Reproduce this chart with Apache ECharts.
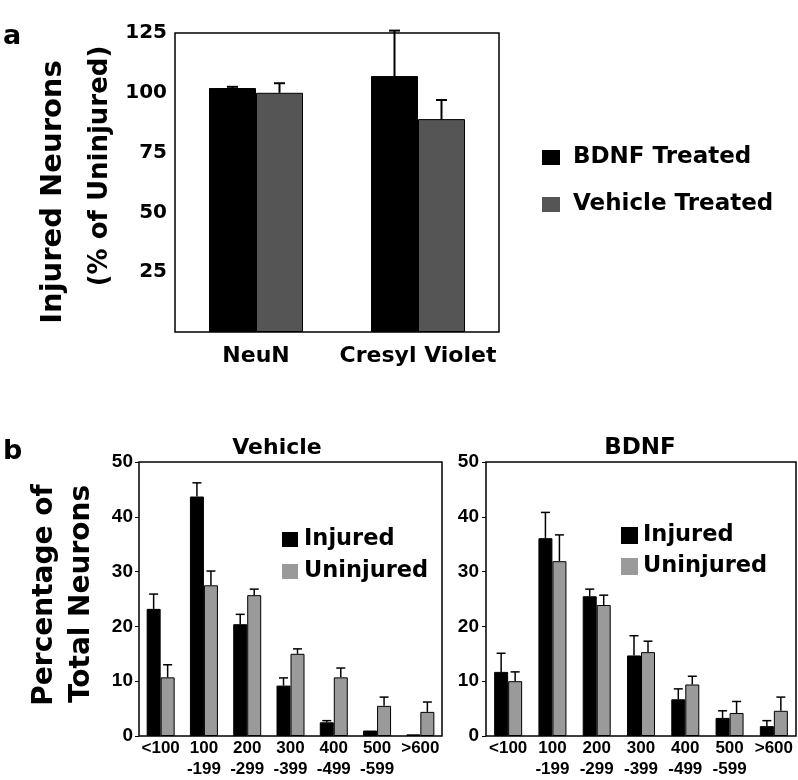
<!DOCTYPE html>
<html>
<head>
<meta charset="utf-8">
<script src="https://cdn.jsdelivr.net/npm/echarts@6/dist/echarts.min.js"></script>
<style>
html,body{margin:0;padding:0;background:#fff;}
#chart{width:798px;height:780px;}
</style>
</head>
<body>
<div id="chart"></div>
<script>
// panel a
var stainCats = ['NeuN', 'Cresyl Violet'];
var bdnfTreated = [102, 107];
var bdnfTreatedErr = [0.5, 19];
var vehicleTreated = [100, 89];
var vehicleTreatedErr = [4, 8];
var aTicks = [0, 25, 50, 75, 100, 125];

// panel b
var sizeCats = ['<100', '100\n-199', '200\n-299', '300\n-399', '400\n-499', '500\n-599', '>600'];
var vehInjured = [23.2, 43.7, 20.4, 9.2, 2.5, 1.0, 0.3];
var vehInjuredErr = [2.7, 2.5, 1.8, 1.4, 0.3, 0, 0];
var vehUninjured = [10.7, 27.5, 25.7, 15.0, 10.7, 5.5, 4.4];
var vehUninjuredErr = [2.3, 2.6, 1.1, 0.9, 1.7, 1.6, 1.8];
var bdnfInjured = [11.7, 36.1, 25.5, 14.7, 6.7, 3.3, 1.8];
var bdnfInjuredErr = [3.4, 4.7, 1.3, 3.6, 1.9, 1.3, 1.0];
var bdnfUninjured = [10.0, 31.9, 23.9, 15.3, 9.4, 4.2, 4.6];
var bdnfUninjuredErr = [1.7, 4.8, 1.8, 2.0, 1.5, 2.1, 2.5];

var DJ = 'DejaVu Sans';
var LB = 'Liberation Sans';
var darkGray = '#555555';
var lightGray = '#9a9a9a';

function errSeries(ai, means, errs, shift, capW, lw) {
    return {
        type: 'custom',
        xAxisIndex: ai,
        yAxisIndex: ai,
        z: 5,
        silent: true,
        data: means.map(function (m, i) { return [i, m, m + errs[i]]; }),
        encode: { x: 0, y: 2 },
        renderItem: function (params, api) {
            if (api.value(2) - api.value(1) < 0.05) return null;
            var b = api.coord([api.value(0), api.value(1)]);
            var t = api.coord([api.value(0), api.value(2)]);
            var x = b[0] + shift;
            return {
                type: 'group',
                children: [
                    { type: 'line', shape: { x1: x, y1: b[1], x2: x, y2: t[1] }, style: { stroke: '#000', lineWidth: lw } },
                    { type: 'line', shape: { x1: x - capW / 2, y1: t[1], x2: x + capW / 2, y2: t[1] }, style: { stroke: '#000', lineWidth: lw } }
                ]
            };
        }
    };
}

function barSeries(name, ai, data, color, bw) {
    return {
        name: name,
        type: 'bar',
        xAxisIndex: ai,
        yAxisIndex: ai,
        data: data,
        barWidth: bw,
        barGap: '0%',
        itemStyle: { color: color, borderColor: '#000', borderWidth: 1 },
        silent: true
    };
}

var gridBox = { show: true, borderColor: '#000', borderWidth: 1.5, backgroundColor: 'transparent' };

function sizeX(gi) {
    return {
        type: 'category', gridIndex: gi, data: sizeCats,
        axisLine: { show: false }, axisTick: { show: false },
        axisLabel: { interval: 0, margin: 2, color: '#000', fontFamily: LB, fontWeight: 'bold', fontSize: 17, lineHeight: 21 }
    };
}
function sizeY(gi, margin) {
    return {
        type: 'value', gridIndex: gi, min: 0, max: 50, interval: 10,
        splitLine: { show: false },
        axisLine: { show: false },
        axisTick: { show: true, length: 4, lineStyle: { color: '#000', width: 1 } },
        axisLabel: { margin: margin, color: '#000', fontFamily: LB, fontWeight: 'bold', fontSize: 19 }
    };
}

var chart = echarts.init(document.getElementById('chart'));
chart.setOption({
    animation: false,
    backgroundColor: '#fff',
    grid: [
        Object.assign({ left: 175, top: 33, width: 324, height: 299 }, gridBox),
        Object.assign({ left: 139, top: 462, width: 303, height: 276 }, gridBox),
        Object.assign({ left: 486, top: 462, width: 310, height: 276 }, gridBox)
    ],
    xAxis: [
        {
            type: 'category', gridIndex: 0, data: stainCats,
            axisLine: { show: false }, axisTick: { show: false },
            axisLabel: { interval: 0, hideOverlap: false, margin: 13, color: '#000', fontFamily: DJ, fontWeight: 'bold', fontSize: 22 }
        },
        sizeX(1),
        sizeX(2)
    ],
    yAxis: [
        {
            type: 'value', gridIndex: 0, min: 0, max: 125, interval: 25,
            splitLine: { show: false }, axisLine: { show: false }, axisTick: { show: false },
            axisLabel: {
                margin: 8, color: '#000', fontFamily: DJ, fontWeight: 'bold', fontSize: 20,
                formatter: function (v) { return aTicks.indexOf(v) > 0 ? String(v) : ''; }
            }
        },
        sizeY(1, 6),
        sizeY(2, 7)
    ],
    legend: [
        {
            data: ['BDNF Treated', 'Vehicle Treated'], orient: 'vertical', left: 537, top: 141,
            itemWidth: 18, itemHeight: 15, itemGap: 24, icon: 'rect', selectedMode: false,
            itemStyle: { borderWidth: 0 },
            textStyle: { color: '#000', fontFamily: DJ, fontWeight: 'bold', fontSize: 23, padding: [0, 0, 0, 8] }
        },
        {
            data: ['Injured', 'Uninjured'], orient: 'vertical', left: 277, top: 523,
            itemWidth: 16, itemHeight: 15, itemGap: 9, icon: 'rect', selectedMode: false,
            itemStyle: { borderWidth: 0 },
            textStyle: { color: '#000', fontFamily: DJ, fontWeight: 'bold', fontSize: 22.5, padding: [0, 0, 0, 1] }
        },
        {
            data: ['Injured', 'Uninjured'], orient: 'vertical', left: 616, top: 519,
            itemWidth: 17, itemHeight: 17, itemGap: 8, icon: 'rect', selectedMode: false,
            itemStyle: { borderWidth: 0 },
            textStyle: { color: '#000', fontFamily: DJ, fontWeight: 'bold', fontSize: 22.5, padding: [0, 0, 0, 0] }
        }
    ],
    graphic: [
        { type: 'text', x: 3, y: 23, style: { text: 'a', fill: '#000', font: 'bold 27px "DejaVu Sans"', textBaseline: 'alphabetic' } },
        { type: 'text', x: 3, y: 438, style: { text: 'b', fill: '#000', font: 'bold 27px "DejaVu Sans"', textBaseline: 'alphabetic' } },
        { type: 'text', x: 53, y: 192, rotation: Math.PI / 2, style: { text: 'Injured Neurons', fill: '#000', font: 'bold 29px "DejaVu Sans"', textAlign: 'center', textVerticalAlign: 'middle' } },
        { type: 'text', x: 100, y: 166, rotation: Math.PI / 2, style: { text: '(% of Uninjured)', fill: '#000', font: 'bold 26px "DejaVu Sans"', textAlign: 'center', textVerticalAlign: 'middle' } },
        { type: 'text', x: 45, y: 595, rotation: Math.PI / 2, style: { text: 'Percentage of', fill: '#000', font: 'bold 28px "DejaVu Sans"', textAlign: 'center', textVerticalAlign: 'middle' } },
        { type: 'text', x: 82, y: 594, rotation: Math.PI / 2, style: { text: 'Total Neurons', fill: '#000', font: 'bold 28px "DejaVu Sans"', textAlign: 'center', textVerticalAlign: 'middle' } },
        { type: 'text', x: 277, y: 448, style: { text: 'Vehicle', fill: '#000', font: 'bold 22px "DejaVu Sans"', textAlign: 'center', textVerticalAlign: 'middle' } },
        { type: 'text', x: 640, y: 448, style: { text: 'BDNF', fill: '#000', font: 'bold 23px "DejaVu Sans"', textAlign: 'center', textVerticalAlign: 'middle' } }
    ],
    series: [
        barSeries('BDNF Treated', 0, bdnfTreated, '#000', 47),
        barSeries('Vehicle Treated', 0, vehicleTreated, darkGray, 47),
        errSeries(0, bdnfTreated, bdnfTreatedErr, -23.5, 11, 2),
        errSeries(0, vehicleTreated, vehicleTreatedErr, 23.5, 11, 2),

        barSeries('Injured', 1, vehInjured, '#000', 14),
        barSeries('Uninjured', 1, vehUninjured, lightGray, 14),
        errSeries(1, vehInjured, vehInjuredErr, -7, 9, 1.5),
        errSeries(1, vehUninjured, vehUninjuredErr, 7, 9, 1.5),

        barSeries('Injured', 2, bdnfInjured, '#000', 14),
        barSeries('Uninjured', 2, bdnfUninjured, lightGray, 14),
        errSeries(2, bdnfInjured, bdnfInjuredErr, -7, 9, 1.5),
        errSeries(2, bdnfUninjured, bdnfUninjuredErr, 7, 9, 1.5)
    ]
});
</script>
</body>
</html>
